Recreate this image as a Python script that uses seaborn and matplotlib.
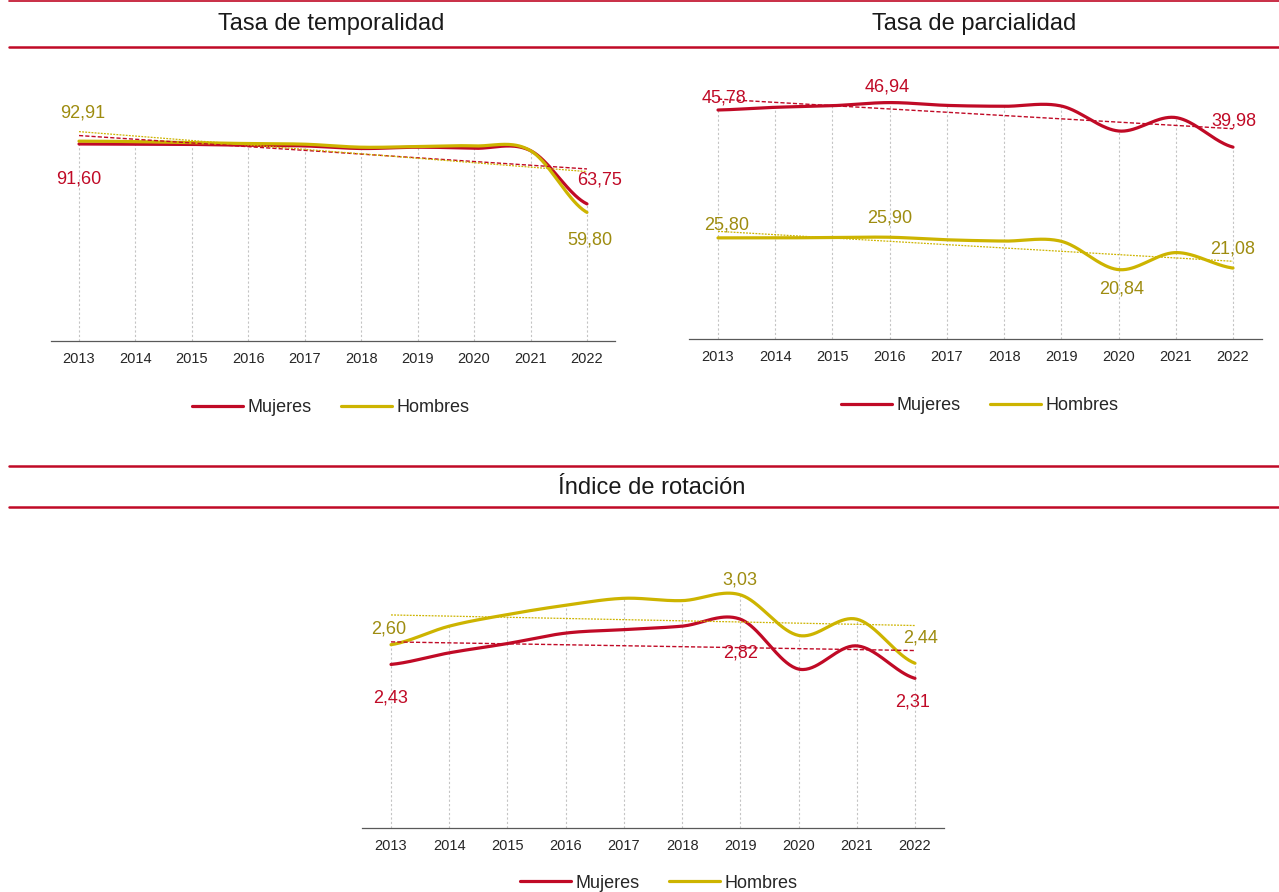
import numpy as np
import seaborn as sns
import matplotlib.pyplot as plt
from matplotlib.lines import Line2D

# datos
anios = list(range(2013, 2023))

temp_mujeres = [91.60, 91.5, 91.4, 91.0, 90.7, 89.5, 90.1, 89.6, 88.5, 63.75]
temp_hombres = [92.91, 92.7, 92.2, 91.8, 91.5, 90.1, 90.4, 90.7, 88.5, 59.80]

parc_mujeres = [45.78, 46.2, 46.45, 46.94, 46.5, 46.36, 46.4, 42.5, 44.6, 39.98]
parc_hombres = [25.80, 25.8, 25.85, 25.90, 25.5, 25.3, 25.26, 20.84, 23.5, 21.08]

rot_mujeres = [2.43, 2.53, 2.61, 2.70, 2.73, 2.76, 2.82, 2.39, 2.59, 2.31]
rot_hombres = [2.60, 2.76, 2.86, 2.94, 3.00, 2.98, 3.03, 2.68, 2.82, 2.44]

titulos = ["Tasa de temporalidad", "Tasa de parcialidad", "Índice de rotación"]
series = ["Mujeres", "Hombres"]

ROJO = "#C00A26"
AMARILLO = "#CDB400"
OLIVA = "#9E8C10"
GRIS_EJE = "#595959"

sns.set_style("white")
plt.rcParams['font.family'] = ['Liberation Sans', 'DejaVu Sans']

W, H = 1279, 892
fig = plt.figure(figsize=(W / 100, H / 100), dpi=100)


def caja(x0, x1, y_top, y_bot):
    # pixeles -> fracciones de la figura
    return [x0 / W, 1 - y_bot / H, (x1 - x0) / W, (y_bot - y_top) / H]


def suavizar(x, y, n=40):
    # línea suavizada tipo Excel (Catmull-Rom) solo para el trazo
    x = np.asarray(x, float)
    y = np.asarray(y, float)
    yp = np.concatenate([[y[0]], y, [y[-1]]])
    xs, ys = [], []
    t = np.linspace(0, 1, n)
    for i in range(len(x) - 1):
        p0, p1, p2, p3 = yp[i], yp[i + 1], yp[i + 2], yp[i + 3]
        m1 = (p2 - p0) / 2
        m2 = (p3 - p1) / 2
        h00 = 2 * t**3 - 3 * t**2 + 1
        h10 = t**3 - 2 * t**2 + t
        h01 = -2 * t**3 + 3 * t**2
        h11 = t**3 - t**2
        xs.extend(x[i] + t * (x[i + 1] - x[i]))
        ys.extend(h00 * p1 + h10 * m1 + h01 * p2 + h11 * m2)
    return np.array(xs), np.array(ys)


def regla(y, x0=9, x1=W, lw=1.8):
    fig.add_artist(Line2D([x0 / W, x1 / W], [1 - y / H, 1 - y / H],
                          transform=fig.transFigure, color=ROJO, lw=lw))


def panel(pos, ylim, muj, hom, etiquetas, titulo, titulo_xy, leyenda_xy):
    ax = fig.add_axes(pos)
    # líneas de caída (gris)
    tope = np.maximum(muj, hom)
    ax.vlines(anios, ylim[0], tope, colors="#C4C4C4", lw=0.8,
              linestyles=(0, (2, 2)), zorder=1)
    for vals, col in [(muj, ROJO), (hom, AMARILLO)]:
        xs, ys = suavizar(anios, vals)
        sns.lineplot(x=xs, y=ys, ax=ax, color=col, lw=2.3, sort=False,
                     estimator=None, zorder=3)
    # líneas de tendencia
    sns.regplot(x=anios, y=muj, ax=ax, scatter=False, ci=None, truncate=True,
                line_kws=dict(color=ROJO, lw=1.0, ls=(0, (3, 1.5)), zorder=4))
    sns.regplot(x=anios, y=hom, ax=ax, scatter=False, ci=None, truncate=True,
                line_kws=dict(color=AMARILLO, lw=0.9, ls=(0, (1.5, 1)), zorder=4))
    for anio, val, txt, col, dx, dy in etiquetas:
        ax.annotate(txt, (anio, val), xytext=(dx, dy), textcoords="offset points",
                    ha="center", va="center", fontsize=13, color=col, zorder=5)
    ax.set_xlim(2012.5, 2022.5)
    ax.set_ylim(*ylim)
    ax.set_xticks(anios)
    ax.set_xticklabels([str(a) for a in anios], fontsize=10.5, color="#262626")
    ax.tick_params(axis="x", length=0, pad=8)
    ax.set_yticks([])
    ax.set_xlabel("")
    ax.set_ylabel("")
    for s in ["left", "top", "right"]:
        ax.spines[s].set_visible(False)
    ax.spines["bottom"].set_color(GRIS_EJE)
    ax.spines["bottom"].set_linewidth(0.9)
    ax.patch.set_alpha(0)

    fig.text(titulo_xy[0] / W, 1 - titulo_xy[1] / H, titulo, ha="center",
             va="center", fontsize=17, color="#1a1a1a")
    manejadores = [Line2D([], [], color=ROJO, lw=2.3),
                   Line2D([], [], color=AMARILLO, lw=2.3)]
    fig.legend(manejadores, series, loc="center",
               bbox_to_anchor=(leyenda_xy[0] / W, 1 - leyenda_xy[1] / H),
               ncol=2, frameon=False, fontsize=13, handlelength=2.8,
               handletextpad=0.3, columnspacing=1.6)
    return ax


# reglas rojas
regla(0.8, lw=1.2)
regla(46.5)
regla(465.8)
regla(507.5)

panel(caja(50.8, 615.2, 70, 341), (0, 126), temp_mujeres, temp_hombres,
      [(2013, temp_hombres[0], "92,91", OLIVA, 3, 20),
       (2013, temp_mujeres[0], "91,60", ROJO, 0, -25),
       (2022, temp_mujeres[-1], "63,75", ROJO, 9, 17),
       (2022, temp_hombres[-1], "59,80", OLIVA, 2, -20)],
      titulos[0], (331, 24), (331, 408))

panel(caja(689.4, 1261.6, 70, 339), (10, 52.03), parc_mujeres, parc_hombres,
      [(2013, parc_mujeres[0], "45,78", ROJO, 4, 9),
       (2016, parc_mujeres[3], "46,94", ROJO, -2, 11),
       (2022, parc_mujeres[-1], "39,98", ROJO, 1, 19),
       (2013, parc_hombres[0], "25,80", OLIVA, 6, 9),
       (2016, parc_hombres[3], "25,90", OLIVA, 0, 14),
       (2020, parc_hombres[7], "20,84", OLIVA, 2, -14),
       (2022, parc_hombres[-1], "21,08", OLIVA, 0, 14)],
      titulos[1], (974, 24), (980, 406))

panel(caja(361.9, 944.1, 528.7, 828), (1.02, 3.6), rot_mujeres, rot_hombres,
      [(2013, rot_hombres[0], "2,60", OLIVA, -2, 11),
       (2013, rot_mujeres[0], "2,43", ROJO, 0, -24),
       (2019, rot_hombres[6], "3,03", OLIVA, 0, 11),
       (2019, rot_mujeres[6], "2,82", ROJO, 0, -24),
       (2022, rot_hombres[-1], "2,44", OLIVA, 4, 18),
       (2022, rot_mujeres[-1], "2,31", ROJO, -2, -17)],
      titulos[2], (652, 488), (659, 883))

fig.savefig("out.png", dpi=100)
